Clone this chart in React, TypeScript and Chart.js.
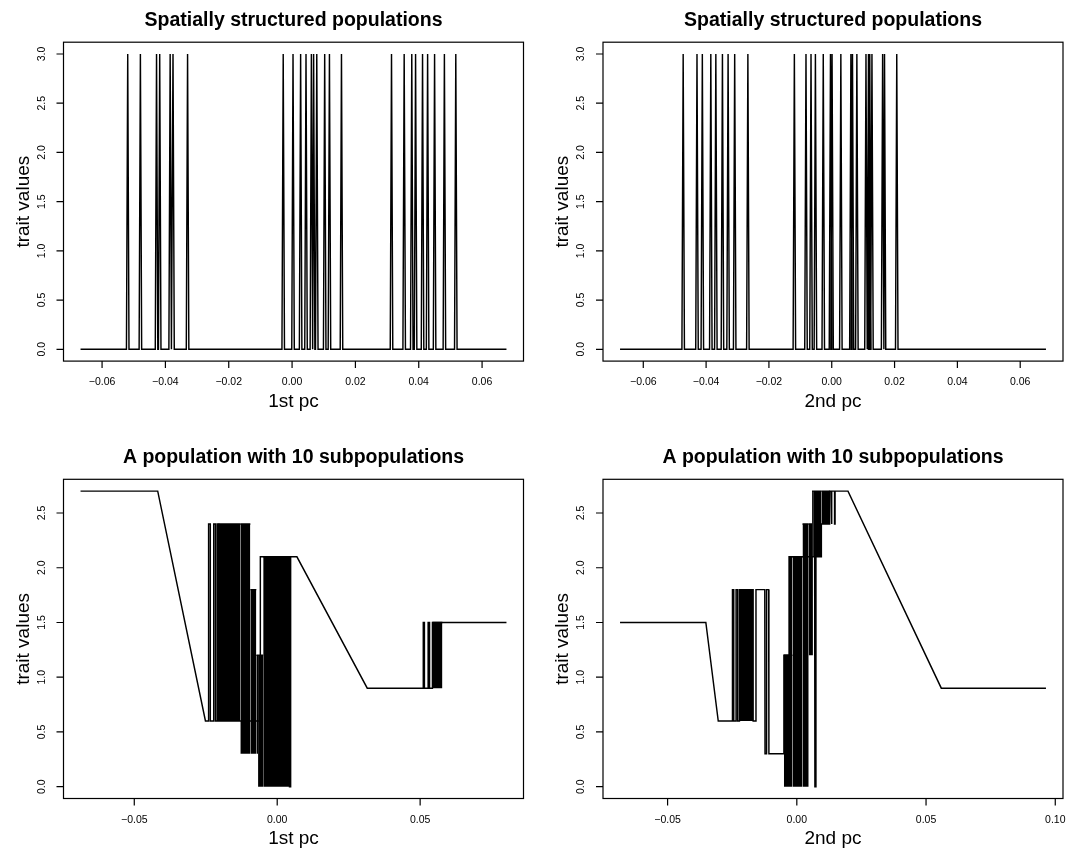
import React, { useEffect, useRef } from "react";
import { Chart, registerables } from "chart.js";

Chart.register(...registerables);

// ---------------- data ----------------
// Top row: individuals sorted by PC score; trait is 0 except for a few individuals at 3.0
const spikeTrait = 3.0;
const baseTrait = 0.0;
const pc1Ends = [-0.0668, 0.0677];
const pc1SpikeX = [
  -0.0519, -0.0479, -0.0428, -0.0418, -0.0385, -0.0376, -0.033,
  -0.0028, 0.0003, 0.0027, 0.0044, 0.0061, 0.0068, 0.0078, 0.0103, 0.0118, 0.0156,
  0.0314, 0.0354, 0.0378, 0.039, 0.0412, 0.0428, 0.045, 0.0481, 0.0517,
];
const pc2Ends = [-0.0674, 0.0682];
const pc2SpikeX = [
  -0.0473, -0.0429, -0.0412, -0.0385, -0.0369, -0.0348, -0.033, -0.0309, -0.0267,
  -0.0119, -0.0082, -0.0066, -0.0052, -0.0027, -0.0004, 0.0001, 0.0029, 0.0061,
  0.0066, 0.008, 0.0109, 0.0117, 0.0121, 0.0128, 0.0162, 0.0168, 0.0207,
];

// Bottom row: 10 subpopulations, trait levels 0, 0.3, ..., 2.7
const sub1stX = [
  -0.0688, -0.0418, -0.0251, -0.024, -0.024, -0.0234, -0.0234, -0.0222, -0.0222, -0.0216,
  -0.0216, -0.021, -0.021, -0.0205, -0.0205, -0.006, -0.0059, -0.0059, -0.0049, 0.0043,
  0.0043, 0.0046, 0.0047, 0.0069, 0.0315, 0.0511, 0.0511, 0.0515, 0.0515, 0.0528,
  0.0528, 0.0533, 0.0533, 0.0543, 0.0543, 0.0578, 0.0802,
];
const sub1stY = [
  2.7, 2.7, 0.6, 0.6, 2.4, 2.4, 0.6, 0.6, 2.4, 2.4,
  0.6, 0.6, 2.4, 2.4, 0.6, 0.6, 1.2, 2.1, 2.1, 2.1,
  0.0, 0.0, 2.1, 2.1, 0.9, 0.9, 1.5, 1.5, 0.9, 0.9,
  1.5, 1.5, 0.9, 0.9, 1.5, 1.5, 1.5,
];
// dense (solid) oscillation blocks: x-interval and the trait band they fill
const block1stLeft = [-0.0205, -0.0129, -0.0094, -0.0073, -0.0067, -0.0049, 0.0543];
const block1stRight = [-0.0129, -0.0094, -0.0073, -0.0067, -0.0049, 0.0043, 0.0578];
const block1stTop = [2.4, 2.4, 1.8, 1.2, 1.2, 2.1, 1.5];
const block1stBottom = [0.6, 0.3, 0.3, 0.3, 0.0, 0.0, 0.9];

const sub2ndX = [
  -0.0684, -0.0352, -0.0304, -0.0249, -0.0249, -0.0244, -0.0244, -0.0235, -0.0235, -0.0229,
  -0.0229, -0.0222, -0.0222, -0.0169, -0.0169, -0.0158, -0.0158, -0.0124, -0.0123, -0.0118,
  -0.0117, -0.0109, -0.0108, -0.005, -0.005, -0.003, -0.003, -0.0025, -0.0025, -0.0021,
  -0.0021, 0.0063, 0.0069, 0.007, 0.0073, 0.0074, 0.0095, 0.0095, 0.0127, 0.0127,
  0.0133, 0.0133, 0.0136, 0.0136, 0.0146, 0.0146, 0.0148, 0.0148, 0.0198, 0.0559, 0.0964,
];
const sub2ndY = [
  1.5, 1.5, 0.6, 0.6, 1.8, 1.8, 0.6, 0.6, 1.8, 1.8,
  0.6, 0.6, 1.8, 1.8, 0.6, 0.6, 1.8, 1.8, 0.3, 0.3,
  1.8, 1.8, 0.3, 0.3, 1.2, 1.2, 2.1, 2.1, 1.2, 1.2,
  2.1, 2.1, 2.1, 0.0, 0.0, 2.1, 2.1, 2.4, 2.4, 2.7,
  2.7, 2.4, 2.4, 2.7, 2.7, 2.4, 2.4, 2.7, 2.7, 0.9, 0.9,
];
const block2ndLeft = [-0.022, -0.005, -0.0017, 0.0022, 0.0046, 0.0059, 0.0063, 0.0095];
const block2ndRight = [-0.0169, -0.0017, 0.0022, 0.0046, 0.0059, 0.0063, 0.0095, 0.0127];
const block2ndTop = [1.8, 1.2, 2.1, 2.4, 2.4, 2.7, 2.7, 2.7];
const block2ndBottom = [0.6, 0.0, 0.0, 0.0, 1.2, 1.2, 2.1, 2.4];

// axis ticks
const topXTicks = [-0.06, -0.04, -0.02, 0, 0.02, 0.04, 0.06];
const topXLabels = ["\u22120.06", "\u22120.04", "\u22120.02", "0.00", "0.02", "0.04", "0.06"];
const topYTicks = [0, 0.5, 1, 1.5, 2, 2.5, 3];
const topYLabels = ["0.0", "0.5", "1.0", "1.5", "2.0", "2.5", "3.0"];
const bl1XTicks = [-0.05, 0, 0.05];
const bl1XLabels = ["\u22120.05", "0.00", "0.05"];
const bl2XTicks = [-0.05, 0, 0.05, 0.1];
const bl2XLabels = ["\u22120.05", "0.00", "0.05", "0.10"];
const botYTicks = [0, 0.5, 1, 1.5, 2, 2.5];
const botYLabels = ["0.0", "0.5", "1.0", "1.5", "2.0", "2.5"];

const titleTop = "Spatially structured populations";
const titleBottom = "A population with 10 subpopulations";
const yLab = "trait values";
const xLab1 = "1st pc";
const xLab2 = "2nd pc";

// ---------------- styling ----------------
const FONT = '"Liberation Sans", Arial, Helvetica, sans-serif';
const TICK_FONT = 10.5;
const LAB_FONT = 19;
const TITLE_FONT = 19.5;
const TICK_LEN = 7;
const LINE_W = 1.45;
const SPIKE_HALF = 0.0004;

type Pt = { x: number; y: number };

function spikeLine(ends: number[], spikes: number[]): Pt[] {
  const pts: Pt[] = [{ x: ends[0], y: baseTrait }];
  for (const s of spikes) {
    pts.push({ x: s - SPIKE_HALF, y: baseTrait }, { x: s, y: spikeTrait }, { x: s + SPIKE_HALF, y: baseTrait });
  }
  pts.push({ x: ends[1], y: baseTrait });
  return pts;
}

function zip(xs: number[], ys: number[]): Pt[] {
  return xs.map((x, i) => ({ x, y: ys[i] }));
}

function padRange(lo: number, hi: number): [number, number] {
  const p = (hi - lo) * 0.04;
  return [lo - p, hi + p];
}

const rBase = {
  id: "rBase",
  afterDraw(chart: any, _args: any, o: any) {
    const { ctx, chartArea: a, scales } = chart;
    const xs = scales.x;
    const ys = scales.y;
    ctx.save();
    ctx.strokeStyle = "#000";
    ctx.fillStyle = "#000";
    ctx.lineWidth = 1.2;
    ctx.strokeRect(a.left, a.top, a.right - a.left, a.bottom - a.top);
    ctx.beginPath();
    o.xTicks.forEach((v: number) => {
      const px = xs.getPixelForValue(v);
      ctx.moveTo(px, a.bottom);
      ctx.lineTo(px, a.bottom + TICK_LEN);
    });
    o.yTicks.forEach((v: number) => {
      const py = ys.getPixelForValue(v);
      ctx.moveTo(a.left, py);
      ctx.lineTo(a.left - TICK_LEN, py);
    });
    ctx.stroke();

    ctx.textAlign = "center";
    ctx.textBaseline = "alphabetic";
    ctx.font = `${TICK_FONT}px ${FONT}`;
    o.xTicks.forEach((v: number, i: number) => {
      ctx.fillText(o.xLabels[i], xs.getPixelForValue(v), a.bottom + 24);
    });
    o.yTicks.forEach((v: number, i: number) => {
      const py = ys.getPixelForValue(v);
      ctx.save();
      ctx.translate(a.left - 19, py);
      ctx.rotate(-Math.PI / 2);
      ctx.fillText(o.yLabels[i], 0, 0);
      ctx.restore();
    });

    ctx.font = `${LAB_FONT}px ${FONT}`;
    ctx.fillText(o.xLabel, (a.left + a.right) / 2, a.bottom + 45.5);
    ctx.save();
    ctx.translate(a.left - 35, (a.top + a.bottom) / 2);
    ctx.rotate(-Math.PI / 2);
    ctx.fillText(o.yLabel, 0, 0);
    ctx.restore();

    ctx.font = `bold ${TITLE_FONT}px ${FONT}`;
    ctx.fillText(o.title, (a.left + a.right) / 2, a.top - 16.5);
    ctx.restore();
  },
};

type PanelSpec = {
  left: number;
  top: number;
  padding: { left: number; right: number; top: number; bottom: number };
  datasets: any[];
  xRange: [number, number];
  yRange: [number, number];
  deco: any;
};

function lineSet(pts: Pt[]) {
  return {
    data: pts,
    borderColor: "#000",
    borderWidth: LINE_W,
    pointRadius: 0,
    fill: false,
    tension: 0,
  };
}

function blockSets(l: number[], r: number[], t: number[], b: number[]) {
  return l.map((x0, i) => ({
    data: [
      { x: x0, y: t[i] },
      { x: r[i], y: t[i] },
    ],
    borderColor: "#000",
    backgroundColor: "#000",
    borderWidth: LINE_W,
    pointRadius: 0,
    tension: 0,
    fill: { target: { value: b[i] } },
  }));
}

const colL = { left: 63.5, right: 15.5 };
const colR = { left: 65, right: 14 };
const rowT = { top: 42.2, bottom: 62.9 };
const rowB = { top: 55.3, bottom: 49.5 };

const PANELS: PanelSpec[] = [
  {
    left: 0,
    top: 0,
    padding: { ...colL, ...rowT },
    datasets: [lineSet(spikeLine(pc1Ends, pc1SpikeX))],
    xRange: padRange(pc1Ends[0], pc1Ends[1]),
    yRange: padRange(baseTrait, spikeTrait),
    deco: { title: titleTop, xLabel: xLab1, yLabel: yLab, xTicks: topXTicks, xLabels: topXLabels, yTicks: topYTicks, yLabels: topYLabels },
  },
  {
    left: 538,
    top: 0,
    padding: { ...colR, ...rowT },
    datasets: [lineSet(spikeLine(pc2Ends, pc2SpikeX))],
    xRange: padRange(pc2Ends[0], pc2Ends[1]),
    yRange: padRange(baseTrait, spikeTrait),
    deco: { title: titleTop, xLabel: xLab2, yLabel: yLab, xTicks: topXTicks, xLabels: topXLabels, yTicks: topYTicks, yLabels: topYLabels },
  },
  {
    left: 0,
    top: 424,
    padding: { ...colL, ...rowB },
    datasets: [
      ...blockSets(block1stLeft, block1stRight, block1stTop, block1stBottom),
      lineSet(zip(sub1stX, sub1stY)),
    ],
    xRange: padRange(Math.min(...sub1stX), Math.max(...sub1stX)),
    yRange: padRange(0, Math.max(...sub1stY)),
    deco: { title: titleBottom, xLabel: xLab1, yLabel: yLab, xTicks: bl1XTicks, xLabels: bl1XLabels, yTicks: botYTicks, yLabels: botYLabels },
  },
  {
    left: 538,
    top: 424,
    padding: { ...colR, ...rowB },
    datasets: [
      ...blockSets(block2ndLeft, block2ndRight, block2ndTop, block2ndBottom),
      lineSet(zip(sub2ndX, sub2ndY)),
    ],
    xRange: padRange(Math.min(...sub2ndX), Math.max(...sub2ndX)),
    yRange: padRange(0, Math.max(...sub2ndY)),
    deco: { title: titleBottom, xLabel: xLab2, yLabel: yLab, xTicks: bl2XTicks, xLabels: bl2XLabels, yTicks: botYTicks, yLabels: botYLabels },
  },
];

const W = 539;
const H = 424;

function Panel({ spec }: { spec: PanelSpec }) {
  const ref = useRef<HTMLCanvasElement | null>(null);
  useEffect(() => {
    if (!ref.current) return;
    const chart = new Chart(ref.current, {
      type: "line",
      data: { datasets: spec.datasets },
      options: {
        animation: false,
        responsive: false,
        maintainAspectRatio: false,
        events: [],
        layout: { padding: spec.padding },
        plugins: {
          legend: { display: false },
          tooltip: { enabled: false },
          title: { display: false },
          rBase: spec.deco,
        } as any,
        scales: {
          x: { type: "linear", min: spec.xRange[0], max: spec.xRange[1], display: false },
          y: { type: "linear", min: spec.yRange[0], max: spec.yRange[1], display: false },
        },
      },
      plugins: [rBase as any],
    });
    return () => chart.destroy();
  }, [spec]);
  return (
    <canvas
      ref={ref}
      width={W}
      height={H}
      style={{ position: "absolute", left: spec.left, top: spec.top, width: W, height: H }}
    />
  );
}

export default function App() {
  return (
    <div style={{ position: "absolute", left: 0, top: 0, width: 1077, height: 848, background: "#fff", overflow: "hidden" }}>
      {PANELS.map((p, i) => (
        <Panel key={i} spec={p} />
      ))}
    </div>
  );
}
